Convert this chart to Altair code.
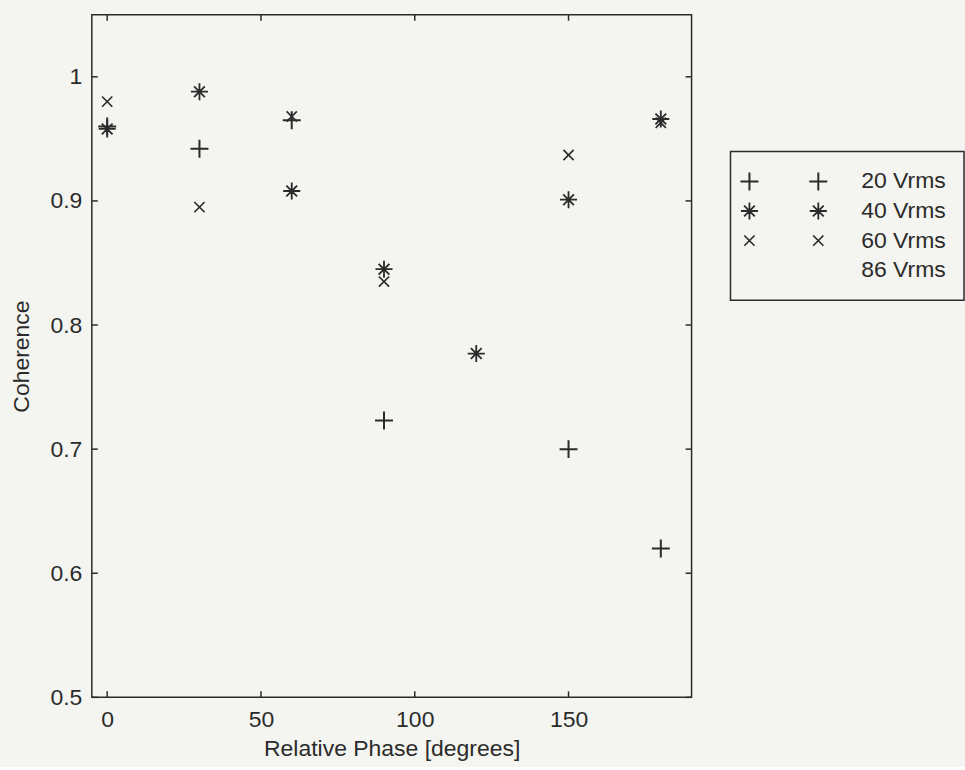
import altair as alt
import pandas as pd

# Coherence vs. relative phase, one series per drive level
phase = [0, 30, 60, 90, 120, 150, 180]
coh_20 = [0.960, 0.942, 0.965, 0.723, None, 0.700, 0.620]
coh_40 = [0.958, 0.988, 0.908, 0.845, 0.777, 0.901, 0.966]
coh_60 = [0.980, 0.895, 0.968, 0.835, None, 0.937, 0.963]
series = ["20 Vrms", "40 Vrms", "60 Vrms", "86 Vrms"]
x_ticks = [0, 50, 100, 150]
y_ticks = [0.5, 0.6, 0.7, 0.8, 0.9, 1.0]

# MATLAB-style marker glyphs as custom symbol paths (relative extents baked in)
PLUS = "M-1,0L1,0M0,-1L0,1"
STAR = ("M-0.95,0L0.95,0M0,-0.95L0,0.95M-0.6,-0.6L0.6,0.6M-0.6,0.6L0.6,-0.6"
        "M-0.12,-0.12h0.24v0.24h-0.24z")
CROSS = "M-0.57,-0.57L0.57,0.57M-0.57,0.57L0.57,-0.57"
EMPTY = "M0,0"

INK = "#2b2b2b"
FONT = "Liberation Sans"
FS = 23
MARK_SIZE = 324

rows = []
for name, vals in zip(series[:3], [coh_20, coh_40, coh_60]):
    for p, v in zip(phase, vals):
        if v is not None:
            rows.append({"phase": p, "coherence": v, "series": name})
points = pd.DataFrame(rows)

shape_enc = alt.Shape("series:N", scale=alt.Scale(domain=series, range=[PLUS, STAR, CROSS, EMPTY]), legend=None)
sw_enc = alt.StrokeWidth("series:N", scale=alt.Scale(domain=series, range=[2.0, 1.5, 1.4, 1.0]), legend=None)

x_enc = alt.X(
    "phase:Q",
    scale=alt.Scale(domain=[-5, 190], nice=False, zero=False),
    axis=alt.Axis(values=x_ticks, ticks=False, domain=False, grid=False,
                  labelPadding=11, titlePadding=6, title="Relative Phase [degrees]"),
)
y_enc = alt.Y(
    "coherence:Q",
    scale=alt.Scale(domain=[0.5, 1.05], nice=False, zero=False),
    axis=alt.Axis(values=y_ticks, ticks=False, domain=False, grid=False,
                  labelPadding=10, titlePadding=16, title="Coherence",
                  labelExpr="datum.value == 1 ? '1' : format(datum.value, '.1f')"),
)

W, H = 601, 684

marks = alt.Chart(points).mark_point(filled=False, color=INK, opacity=1, size=MARK_SIZE).encode(
    x=x_enc, y=y_enc, shape=shape_enc, strokeWidth=sw_enc
)

# Inward ticks on all four sides of the box
yt = pd.DataFrame({"coherence": y_ticks})
xt = pd.DataFrame({"phase": x_ticks})
tick_style = dict(color=INK, strokeWidth=1.5)
ticks_left = alt.Chart(yt).mark_rule(**tick_style).encode(y=y_enc, x=alt.value(0), x2=alt.value(6))
ticks_right = alt.Chart(yt).mark_rule(**tick_style).encode(y=y_enc, x=alt.value(W - 6), x2=alt.value(W))
ticks_bottom = alt.Chart(xt).mark_rule(**tick_style).encode(x=x_enc, y=alt.value(H - 6), y2=alt.value(H))
ticks_top = alt.Chart(xt).mark_rule(**tick_style).encode(x=x_enc, y=alt.value(0), y2=alt.value(6))

main = alt.layer(ticks_left, ticks_right, ticks_bottom, ticks_top, marks).properties(width=W, height=H)

# Legend panel: two marker samples per entry, then the label
leg_rows = []
for name in series:
    for c in ["m1", "m2"]:
        leg_rows.append({"series": name, "col": c})
leg_df = pd.DataFrame(leg_rows)

leg_y = alt.Y("series:N", scale=alt.Scale(type="point", domain=series, range=[167, 256], padding=0), axis=None)
leg_x = alt.X("col:N", scale=alt.Scale(type="point", domain=["m1", "m2"], range=[56, 125], padding=0), axis=None)

leg_marks = alt.Chart(leg_df).mark_point(filled=False, color=INK, opacity=1, size=MARK_SIZE).encode(
    x=leg_x, y=leg_y, shape=shape_enc, strokeWidth=sw_enc
)
leg_text = alt.Chart(pd.DataFrame({"series": series})).mark_text(
    align="left", baseline="middle", font=FONT, fontSize=FS, color=INK
).encode(x=alt.value(168), y=leg_y, text="series:N")
leg_box = alt.Chart(pd.DataFrame({"k": [0]})).mark_rect(
    fillOpacity=0, stroke=INK, strokeWidth=1.5
).encode(x=alt.value(37), x2=alt.value(271), y=alt.value(137), y2=alt.value(286))

legend = alt.layer(leg_box, leg_marks, leg_text).properties(
    width=272, height=H, view=alt.ViewBackground(strokeWidth=0, strokeOpacity=0)
)

chart = alt.hconcat(main, legend, spacing=0).properties(
    padding={"left": 10, "top": 12, "right": 0, "bottom": 5},
    background="#f4f5f0",
).configure_view(stroke=INK, strokeWidth=1.5).configure_axis(
    labelFont=FONT, labelFontSize=FS, labelColor=INK,
    titleFont=FONT, titleFontSize=FS, titleFontWeight="normal", titleColor=INK,
)

chart.save("out.html", embed_options={"renderer": "svg", "actions": False})
